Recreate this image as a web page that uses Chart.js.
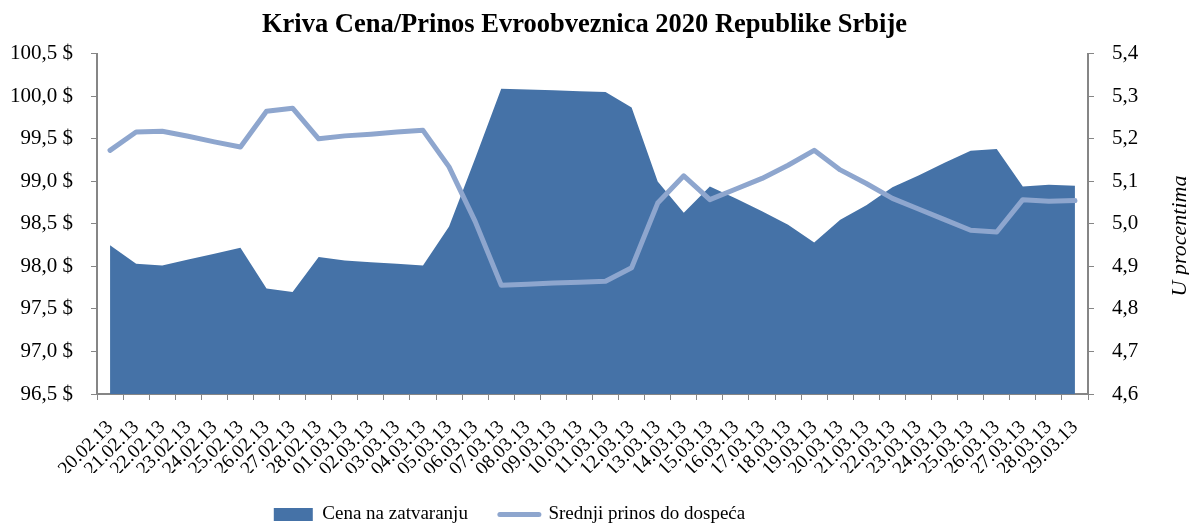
<!DOCTYPE html>
<html>
<head>
<meta charset="utf-8">
<script src="https://cdn.jsdelivr.net/npm/chart.js@4.4.1/dist/chart.umd.min.js"></script>
<style>
  html, body { margin: 0; padding: 0; background: #fff; }
  #wrap { width: 1189px; height: 532px; }
</style>
</head>
<body>
<div id="wrap"><canvas id="bondChart"></canvas></div>
<script>
const dates = ['20.02.13','21.02.13','22.02.13','23.02.13','24.02.13','25.02.13','26.02.13','27.02.13','28.02.13',
  '01.03.13','02.03.13','03.03.13','04.03.13','05.03.13','06.03.13','07.03.13','08.03.13','09.03.13','10.03.13',
  '11.03.13','12.03.13','13.03.13','14.03.13','15.03.13','16.03.13','17.03.13','18.03.13','19.03.13','20.03.13',
  '21.03.13','22.03.13','23.03.13','24.03.13','25.03.13','26.03.13','27.03.13','28.03.13','29.03.13'];

// Cena na zatvaranju ($)
const closePrice = [98.25, 98.03, 98.01, 98.08, 98.15, 98.22, 97.74, 97.70, 98.11,
  98.07, 98.05, 98.03, 98.01, 98.47, 99.27, 100.09, 100.08, 100.07, 100.06,
  100.05, 99.87, 99.00, 98.63, 98.94, 98.80, 98.65, 98.49, 98.28, 98.55,
  98.72, 98.93, 99.07, 99.22, 99.36, 99.38, 98.94, 98.96, 98.95];

// Srednji prinos do dospeca (%)
const avgYield = [5.173, 5.216, 5.218, 5.206, 5.193, 5.181, 5.265, 5.272, 5.200,
  5.207, 5.211, 5.216, 5.220, 5.134, 5.006, 4.856, 4.858, 4.861, 4.863,
  4.865, 4.897, 5.049, 5.113, 5.057, 5.082, 5.107, 5.138, 5.173, 5.127,
  5.095, 5.060, 5.035, 5.010, 4.985, 4.981, 5.057, 5.053, 5.055];

const seriesNames = ['Cena na zatvaranju', 'Srednji prinos do dospeća'];
const priceTicks = [96.5, 100.5, 0.5];   // min, max, step
const yieldTicks = [4.6, 5.4, 0.1];

const AREA = '#4572a7';
const LINE = '#8ea6ce';
const AXIS = '#868686';
const SERIF = "'Liberation Serif', 'Times New Roman', serif";

// right axis title reads bottom-to-top, chart.js would rotate it the other way
const rightTitle = {
  id: 'rightTitle',
  afterDraw(chart) {
    const c = chart.ctx;
    c.save();
    c.translate(1180, 236);
    c.rotate(-Math.PI / 2);
    c.font = 'italic 22px ' + SERIF;
    c.fillStyle = '#000';
    c.textAlign = 'center';
    c.textBaseline = 'middle';
    c.fillText('U procentima', 0, 0);
    c.restore();
  }
};

// title and legend are a bit off centre in the original
const boxShift = {
  id: 'boxShift',
  afterLayout(chart) {
    chart.legend.left -= 65;
    chart.legend.right -= 65;
    chart.titleBlock.left += 10;
    chart.titleBlock.right += 10;
  }
};

const ctx = document.getElementById('bondChart').getContext('2d');
const myChart = new Chart(ctx, {
  type: 'line',
  data: {
    labels: dates,
    datasets: [{
      label: seriesNames[0],
      data: closePrice,
      yAxisID: 'y',
      fill: 'start',
      backgroundColor: AREA,
      borderColor: AREA,
      borderWidth: 0,
      pointRadius: 0,
      tension: 0,
      order: 1
    }, {
      label: seriesNames[1],
      data: avgYield,
      yAxisID: 'y1',
      fill: false,
      borderColor: LINE,
      borderWidth: 5,
      borderCapStyle: 'round',
      borderJoinStyle: 'round',
      pointRadius: 0,
      tension: 0,
      order: 0
    }]
  },
  options: {
    responsive: true,
    maintainAspectRatio: false,
    animation: false,
    layout: { padding: { left: 10, right: 50, top: 2, bottom: 0 } },
    plugins: {
      title: {
        display: true,
        text: 'Kriva Cena/Prinos Evroobveznica 2020 Republike Srbije',
        color: '#000',
        font: { family: SERIF, size: 26.5, weight: 'bold' },
        padding: { top: 7, bottom: 13 }
      },
      legend: {
        position: 'bottom',
        maxHeight: 59,
        labels: {
          usePointStyle: true,
          pointStyleWidth: 39,
          boxHeight: 13,
          padding: 32,
          color: '#000',
          font: { family: SERIF, size: 19 },
          generateLabels: () => [
            { text: seriesNames[0], fillStyle: AREA, strokeStyle: AREA, lineWidth: 0, pointStyle: 'rect', datasetIndex: 0 },
            { text: seriesNames[1], fillStyle: LINE, strokeStyle: LINE, lineWidth: 5, lineCap: 'round', pointStyle: 'line', datasetIndex: 1 }
          ]
        }
      },
      tooltip: { enabled: false }
    },
    scales: {
      x: {
        offset: true,
        grid: { offset: true, drawOnChartArea: false, drawTicks: true, tickLength: 6, color: AXIS },
        border: { color: AXIS, width: 2 },
        afterFit: scale => {
          scale.height = 79;
          scale.paddingLeft = 0;
          scale.paddingRight = 0;
        },
        ticks: {
          autoSkip: false,
          maxRotation: 45,
          minRotation: 45,
          padding: 16,
          color: '#000',
          font: { family: SERIF, size: 19.5 }
        }
      },
      y: {
        position: 'left',
        min: priceTicks[0],
        max: priceTicks[1],
        grid: { drawOnChartArea: false, tickLength: 6, color: AXIS },
        border: { color: AXIS, width: 2 },
        afterFit: scale => { scale.width = 87; },
        ticks: {
          stepSize: priceTicks[2],
          padding: 18,
          color: '#000',
          font: { family: SERIF, size: 21 },
          callback: v => v.toFixed(1).replace('.', ',') + ' $'
        }
      },
      y1: {
        position: 'right',
        min: yieldTicks[0],
        max: yieldTicks[1],
        grid: { drawOnChartArea: false, tickLength: 6, color: AXIS },
        border: { color: AXIS, width: 2 },
        afterFit: scale => { scale.width = 51; },
        ticks: {
          stepSize: yieldTicks[2],
          padding: 18,
          color: '#000',
          font: { family: SERIF, size: 21 },
          callback: v => v.toFixed(1).replace('.', ',')
        }
      }
    }
  },
  plugins: [rightTitle, boxShift]
});
</script>
</body>
</html>
